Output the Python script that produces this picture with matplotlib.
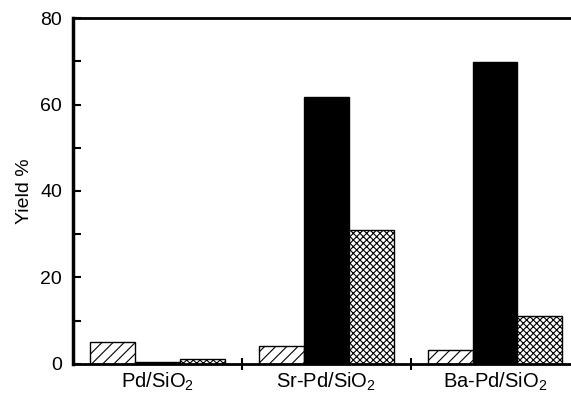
import matplotlib.pyplot as plt
import numpy as np

plt.rcParams['font.family'] = ['Liberation Sans', 'DejaVu Sans']
plt.rcParams['mathtext.fontset'] = 'custom'
plt.rcParams['mathtext.rm'] = 'Liberation Sans'
plt.rcParams['hatch.linewidth'] = 0.8

catalysts = ["Pd/SiO$_2$", "Sr-Pd/SiO$_2$", "Ba-Pd/SiO$_2$"]
y_hatched = [5.1, 4.2, 3.2]
y_black = [0.4, 61.7, 69.8]
y_cross = [1.2, 31.0, 11.1]

fig = plt.figure(figsize=(5.71, 3.93), dpi=100)
ax = fig.add_axes([0.128, 0.074, 0.872, 0.880])

x = np.arange(len(catalysts))
w = 0.266

# 3本ずつ並べる
ax.bar(x - w, y_hatched, w, color='white', edgecolor='black', hatch='///', linewidth=1.0)
ax.bar(x, y_black, w, color='black', edgecolor='black', linewidth=1.0)
ax.bar(x + w, y_cross, w, color='white', edgecolor='black', hatch='xxxxx', linewidth=1.0)

ax.set_xlim(-0.5, 2.45)
ax.set_ylim(0, 80)

ax.set_yticks([0, 20, 40, 60, 80])
ax.set_yticks([10, 30, 50, 70], minor=True)
ax.tick_params(axis='y', which='both', direction='in', length=6, width=1.5,
               labelsize=14, pad=8)

ax.set_xticks(x)
ax.set_xticklabels(catalysts)
ax.set_xticks([0.5, 1.5], minor=True)
ax.tick_params(axis='x', which='major', length=0, labelsize=14.5, pad=5)
ax.tick_params(axis='x', which='minor', direction='inout', length=9, width=1.5)

ax.set_ylabel('Yield %', fontsize=14, labelpad=5)

ax.spines['right'].set_visible(False)
ax.spines['left'].set_linewidth(2.5)
ax.spines['top'].set_linewidth(2.0)
ax.spines['bottom'].set_linewidth(2.0)

plt.savefig("out.png", dpi=100)
